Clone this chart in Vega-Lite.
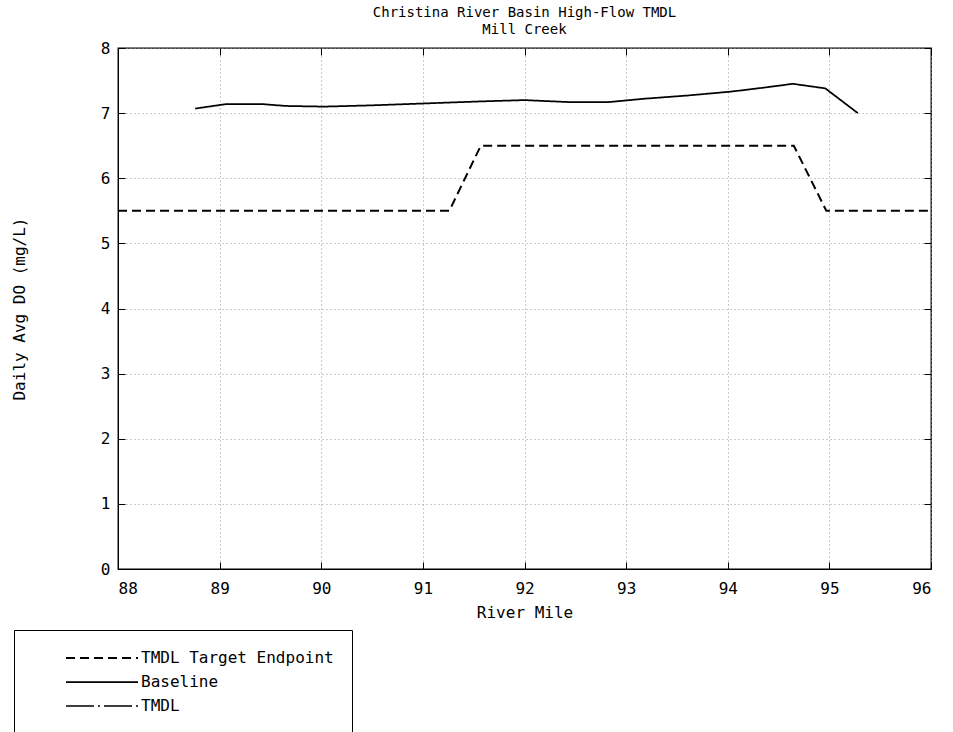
{
  "$schema": "https://vega.github.io/schema/vega-lite/v6.json",
  "width": 813,
  "height": 521,
  "autosize": "none",
  "padding": {"left": 118, "top": 48, "right": 22, "bottom": 163},
  "background": "white",
  "config": {
    "font": "DejaVu Sans Mono",
    "view": {"stroke": "black", "strokeWidth": 1.3},
    "axis": {
      "labelFont": "DejaVu Sans Mono",
      "titleFont": "DejaVu Sans Mono",
      "labelFontSize": 16,
      "titleFontSize": 16,
      "titleFontWeight": "normal",
      "labelColor": "black",
      "titleColor": "black",
      "domainColor": "black",
      "tickColor": "black",
      "tickSize": -7,
      "gridColor": "#999999",
      "gridDash": [1, 3],
      "gridWidth": 1
    }
  },
  "title": {
    "text": ["Christina River Basin High-Flow TMDL", "Mill Creek"],
    "font": "DejaVu Sans Mono",
    "fontSize": 14,
    "fontWeight": "normal",
    "color": "black",
    "anchor": "middle",
    "lineHeight": 17,
    "offset": 3
  },
  "datasets": {
    "lines": [
      {"series": "Baseline", "mile": 88.76, "do": 7.07},
      {"series": "Baseline", "mile": 89.07, "do": 7.14},
      {"series": "Baseline", "mile": 89.41, "do": 7.14},
      {"series": "Baseline", "mile": 89.65, "do": 7.11},
      {"series": "Baseline", "mile": 90.03, "do": 7.10},
      {"series": "Baseline", "mile": 90.51, "do": 7.12},
      {"series": "Baseline", "mile": 91.04, "do": 7.15},
      {"series": "Baseline", "mile": 91.57, "do": 7.18},
      {"series": "Baseline", "mile": 92.0, "do": 7.20},
      {"series": "Baseline", "mile": 92.43, "do": 7.17},
      {"series": "Baseline", "mile": 92.83, "do": 7.17},
      {"series": "Baseline", "mile": 93.17, "do": 7.22},
      {"series": "Baseline", "mile": 93.6, "do": 7.27},
      {"series": "Baseline", "mile": 94.03, "do": 7.33},
      {"series": "Baseline", "mile": 94.35, "do": 7.39},
      {"series": "Baseline", "mile": 94.64, "do": 7.45},
      {"series": "Baseline", "mile": 94.96, "do": 7.38},
      {"series": "Baseline", "mile": 95.28, "do": 7.0},
      {"series": "TMDL Target Endpoint", "mile": 88.0, "do": 5.5},
      {"series": "TMDL Target Endpoint", "mile": 91.26, "do": 5.5},
      {"series": "TMDL Target Endpoint", "mile": 91.57, "do": 6.5},
      {"series": "TMDL Target Endpoint", "mile": 94.65, "do": 6.5},
      {"series": "TMDL Target Endpoint", "mile": 94.97, "do": 5.5},
      {"series": "TMDL Target Endpoint", "mile": 96.0, "do": 5.5}
    ]
  },
  "data": {"name": "lines"},
  "layer": [
    {
      "mark": {"type": "line", "color": "black"},
      "encoding": {
        "x": {
          "field": "mile", "type": "quantitative",
          "scale": {"domain": [88, 96], "nice": false, "zero": false},
          "axis": {"title": "River Mile", "values": [88, 89, 90, 91, 92, 93, 94, 95, 96], "labelPadding": 18, "titlePadding": 8}
        },
        "y": {
          "field": "do", "type": "quantitative",
          "scale": {"domain": [0, 8], "nice": false},
          "axis": {"title": "Daily Avg DO (mg/L)", "values": [0, 1, 2, 3, 4, 5, 6, 7, 8], "labelPadding": 15, "titlePadding": 73}
        },
        "detail": {"field": "series"},
        "strokeWidth": {
          "field": "series", "type": "nominal",
          "scale": {"domain": ["TMDL Target Endpoint", "Baseline", "TMDL"], "range": [2, 1.5, 1.5]},
          "legend": null
        },
        "strokeDash": {
          "field": "series", "type": "nominal",
          "scale": {
            "domain": ["TMDL Target Endpoint", "Baseline", "TMDL"],
            "range": [[9, 5], [1, 0], [28, 4, 2, 4]]
          },
          "legend": {
            "title": null,
            "orient": "none",
            "legendX": -104,
            "legendY": 582,
            "strokeColor": "black",
            "fillColor": "white",
            "padding": 18,
            "symbolOffset": 60,
            "symbolType": "M-4,0L4,0",
            "symbolSize": 324,
            "symbolStrokeWidth": 1.5,
            "symbolStrokeColor": "black",
            "labelFont": "DejaVu Sans Mono",
            "labelFontSize": 16,
            "labelColor": "black",
            "labelOffset": 29,
            "labelLimit": 500,
            "rowPadding": 6
          }
        }
      }
    },
    {
      "mark": {"type": "point", "opacity": 0},
      "encoding": {
        "x": {
          "field": "mile", "type": "quantitative",
          "axis": {"orient": "top", "labels": false, "grid": false, "title": null, "domain": false, "values": [88, 89, 90, 91, 92, 93, 94, 95, 96]}
        },
        "y": {
          "field": "do", "type": "quantitative",
          "axis": {"orient": "right", "labels": false, "grid": false, "title": null, "domain": false, "values": [0, 1, 2, 3, 4, 5, 6, 7, 8]}
        }
      }
    }
  ],
  "resolve": {"axis": {"x": "independent", "y": "independent"}}
}
